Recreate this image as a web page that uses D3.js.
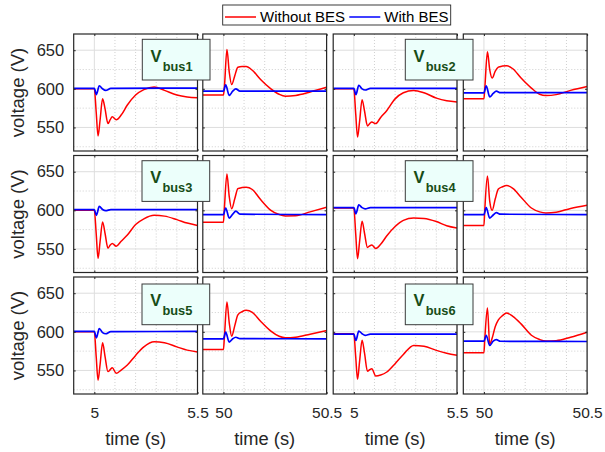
<!DOCTYPE html>
<html><head><meta charset="utf-8">
<script src="https://cdn.jsdelivr.net/npm/d3@7"></script>
<style>body{margin:0;background:#fff}svg{display:block}</style>
</head><body><svg id="c" width="605" height="452"></svg>
<script>
// ---------- data ----------
const busLabels = ["bus1","bus2","bus3","bus4","bus5","bus6"];
const seriesNames = ["Without BES","With BES"];
const xDomainA = [4.9, 5.5], xDomainB = [49.9, 50.5];
const xTicksA = [5, 5.5], xTicksB = [50, 50.5];
const xTickLabelsA = ["5","5.5"], xTickLabelsB = ["50","50.5"];
const xMinorA = [5.1, 5.2, 5.3, 5.4], xMinorB = [50.1, 50.2, 50.3, 50.4];
const yDomain = [519.5, 671];
const yTicks = [550, 600, 650];
const yMinor = [525, 575, 625];

// time samples, fault at t = 5 s
const tA = [4.9, 5.0, 5.009, 5.018, 5.028, 5.04, 5.052, 5.066, 5.077, 5.087, 5.106, 5.13, 5.16, 5.2, 5.24, 5.29, 5.34, 5.4, 5.45, 5.5];
const tBlueA = [4.9, 5.0, 5.01, 5.024, 5.04, 5.055, 5.08, 5.5];
// time samples, event at t = 50 s
const tB = [49.9, 50.0, 50.004, 50.017, 50.028, 50.04, 50.055, 50.07, 50.09, 50.11, 50.14, 50.18, 50.23, 50.27, 50.3, 50.35, 50.42, 50.5];
const tBlueB = [49.9, 50.0, 50.011, 50.028, 50.045, 50.06, 50.08, 50.5];

// Without BES, around 5 s
const redA = [
  [600, 600, 570, 539, 560, 587, 574, 555, 560, 564, 560, 566, 579, 592, 599, 602.5, 598, 592, 589.5, 588.5],
  [600, 600, 568, 537.6, 558, 586, 571, 552, 555, 557, 555, 563, 572, 587, 595, 598, 595, 588, 584.5, 583],
  [600, 600, 570, 537.8, 560, 585, 570, 551, 555, 557, 553.6, 560, 568, 581.6, 589, 593.5, 592.5, 588, 583.5, 580.3],
  [603, 603, 570, 537.4, 560, 586, 570, 552, 554, 555, 550.5, 556, 567, 579, 587, 590, 589.5, 585.5, 580, 577],
  [600, 600, 568, 537.2, 558, 585.8, 568, 548.5, 551, 553.6, 546.3, 550.5, 557, 569.5, 580.5, 587, 585.8, 580.5, 576.3, 574],
  [597.4, 597.4, 568, 538.5, 562, 589, 572, 549, 551, 552.3, 542.8, 544, 548, 558.8, 570.7, 582.3, 581.3, 576, 572.4, 569.5]
];
// With BES, around 5 s
const blueA = [
  [600.5, 600.5, 592.5, 604, 600, 598, 600.5, 601],
  [600.5, 600.5, 592.5, 604.5, 600, 598.5, 600.5, 600.5],
  [601, 601, 593.5, 605, 601, 599.5, 601, 601],
  [603.5, 603.5, 595.5, 607, 603.5, 602, 603.5, 603.5],
  [600.5, 600.5, 592.3, 604.3, 599, 597.5, 600.3, 600.5],
  [597, 597, 588.8, 601, 597.5, 595.5, 597, 597]
];
// Without BES, around 50 s
const redB = [
  [592, 592, 600, 651, 622, 605.5, 617, 628, 629, 629, 624, 612, 600, 593, 590.5, 591.5, 596, 602],
  [587, 587, 600, 648, 625, 614, 623, 628, 629.5, 630, 626, 614, 601, 593, 591.4, 592.5, 598, 603],
  [584.5, 584.5, 600, 647, 618, 602, 615, 628, 629.5, 630, 627, 614, 600, 594.5, 592.8, 593, 598, 604],
  [580.3, 580.3, 600, 644.5, 612, 600, 615, 627.6, 630.5, 632, 628.5, 617, 603, 598, 596.6, 597.5, 602.5, 606.5],
  [577, 577, 590, 638.7, 612, 594.3, 608, 622, 626, 627.8, 625.3, 613.7, 601, 594.3, 592.3, 593, 597, 601.5],
  [573, 573, 590, 631, 584, 592, 607, 615.5, 621, 624.5, 620, 610.3, 595.6, 590, 588, 588.5, 593, 599.5]
];
// With BES, around 50 s
const blueB = [
  [597, 597, 605, 591.5, 597, 600, 597, 597],
  [594.8, 594.8, 604, 589.7, 594, 597, 595, 595],
  [594.5, 594.5, 603, 590, 595, 599, 595, 594.5],
  [594.5, 594.5, 603.5, 590, 594, 597, 595, 594.5],
  [591, 591, 599.6, 586.6, 591, 593, 591.2, 591],
  [588, 588, 595.6, 582.4, 588, 590, 587.8, 587.5]
];

// ---------- layout ----------
const colLeft = [73.7, 202.8, 333.2, 463.3], colW = 123.8;
const rowTop = [34, 155.5, 277], rowH = 117;
const boxPos = [[142.3, 39.3], [405.3, 39.3], [142, 160.7], [405.3, 160.7], [142, 284], [405.3, 284]];
const FONT = "'Liberation Sans', Arial, Helvetica, sans-serif";
const AX = "#262626";
const RED = "#ff0000", BLUE = "#0000ff";

const svg = d3.select("#c");
svg.append("rect").attr("width", 605).attr("height", 452).attr("fill", "#fff");
const defs = svg.append("defs");

function panel(id, col, row, xDom, xTicks, xTickLabels, xMinor, red, tRed, blue, tBlue, showY, showX) {
  const x0 = colLeft[col], y0 = rowTop[row];
  const x = d3.scaleLinear().domain(xDom).range([x0, x0 + colW]);
  const y = d3.scaleLinear().domain(yDomain).range([y0 + rowH, y0]);
  const g = svg.append("g");
  g.append("rect").attr("x", x0).attr("y", y0).attr("width", colW).attr("height", rowH).attr("fill", "#fff");
  // minor grid
  g.selectAll(".mx").data(xMinor).enter().append("line")
    .attr("x1", d => x(d)).attr("x2", d => x(d)).attr("y1", y0).attr("y2", y0 + rowH)
    .attr("stroke", "#c4c4c4").attr("stroke-width", 0.8).attr("stroke-dasharray", "1,2");
  g.selectAll(".my").data(yMinor).enter().append("line")
    .attr("y1", d => y(d)).attr("y2", d => y(d)).attr("x1", x0).attr("x2", x0 + colW)
    .attr("stroke", "#c4c4c4").attr("stroke-width", 0.8).attr("stroke-dasharray", "1,2");
  // major grid
  g.selectAll(".gx").data(xTicks).enter().append("line")
    .attr("x1", d => x(d)).attr("x2", d => x(d)).attr("y1", y0).attr("y2", y0 + rowH)
    .attr("stroke", "#dedede").attr("stroke-width", 1);
  g.selectAll(".gy").data(yTicks).enter().append("line")
    .attr("y1", d => y(d)).attr("y2", d => y(d)).attr("x1", x0).attr("x2", x0 + colW)
    .attr("stroke", "#dedede").attr("stroke-width", 1);
  // lines
  defs.append("clipPath").attr("id", "cp" + id).append("rect")
    .attr("x", x0).attr("y", y0).attr("width", colW).attr("height", rowH);
  const line = d3.line().x(d => x(d[0])).y(d => y(d[1])).curve(d3.curveMonotoneX);
  const lg = g.append("g").attr("clip-path", "url(#cp" + id + ")");
  lg.append("path").attr("d", line(tRed.map((t, i) => [t, red[i]])))
    .attr("fill", "none").attr("stroke", RED).attr("stroke-width", 1.5);
  lg.append("path").attr("d", line(tBlue.map((t, i) => [t, blue[i]])))
    .attr("fill", "none").attr("stroke", BLUE).attr("stroke-width", 1.7);
  // axes
  const ax = (a) => a.call(s => s.select(".domain").remove())
    .call(s => s.selectAll("line").attr("stroke", AX))
    .call(s => s.selectAll("text").attr("fill", AX).attr("font-family", FONT));
  g.append("g").attr("transform", `translate(${x0},0)`)
    .call(d3.axisLeft(y).tickValues(yTicks).tickSize(-2).tickPadding(9.5)
      .tickFormat(showY ? d3.format("d") : () => ""))
    .call(ax).call(s => s.selectAll("text").attr("font-size", 16.5));
  g.append("g").attr("transform", `translate(${x0 + colW},0)`)
    .call(d3.axisRight(y).tickValues(yTicks).tickSize(-2).tickFormat(() => "")).call(ax);
  g.append("g").attr("transform", `translate(0,${y0 + rowH})`)
    .call(d3.axisBottom(x).tickValues(xTicks).tickSize(-2).tickPadding(13.3)
      .tickFormat((d, i) => showX ? xTickLabels[i] : ""))
    .call(ax).call(s => s.selectAll("text").attr("font-size", 15.5));
  g.append("g").attr("transform", `translate(0,${y0})`)
    .call(d3.axisTop(x).tickValues(xTicks).tickSize(-2).tickFormat(() => "")).call(ax);
  // box
  g.append("rect").attr("x", x0).attr("y", y0).attr("width", colW).attr("height", rowH)
    .attr("fill", "none").attr("stroke", AX).attr("stroke-width", 1.2);
  if (showX) {
    g.append("text").attr("x", x0 + colW / 2).attr("y", 445).attr("text-anchor", "middle")
      .attr("font-family", FONT).attr("font-size", 18.3).attr("fill", AX).text("time (s)");
  }
  if (showY) {
    g.append("text").attr("transform", `translate(24,${y0 + rowH / 2}) rotate(-90)`)
      .attr("text-anchor", "middle").attr("font-family", FONT).attr("font-size", 18.5)
      .attr("fill", AX).text("voltage (V)");
  }
}

busLabels.forEach((b, i) => {
  const row = Math.floor(i / 2), p = i % 2;
  panel("a" + i, 2 * p, row, xDomainA, xTicksA, xTickLabelsA, xMinorA, redA[i], tA, blueA[i], tBlueA, p === 0, row === 2);
  panel("b" + i, 2 * p + 1, row, xDomainB, xTicksB, xTickLabelsB, xMinorB, redB[i], tB, blueB[i], tBlueB, false, row === 2);
});

// annotation boxes
busLabels.forEach((b, i) => {
  const [bx, by] = boxPos[i];
  svg.append("rect").attr("x", bx).attr("y", by).attr("width", 67.7).attr("height", 40.7)
    .attr("fill", "#ecfffb").attr("stroke", "#3a3a3a").attr("stroke-width", 1);
  const t = svg.append("text").attr("x", bx + 8.2).attr("y", by + 22.4)
    .attr("font-family", FONT).attr("font-weight", "bold").attr("fill", "#174d17");
  t.append("tspan").attr("font-size", 16.5).text("V");
  t.append("tspan").attr("font-size", 12.8).attr("dx", 1.2).attr("dy", 9).text(b);
});

// legend
const lg = svg.append("g");
lg.append("rect").attr("x", 222.7).attr("y", 5).attr("width", 228).attr("height", 20)
  .attr("fill", "#fff").attr("stroke", AX).attr("stroke-width", 0.9);
const legendItems = [{name: seriesNames[0], color: RED, x: 225}, {name: seriesNames[1], color: BLUE, x: 349.3}];
legendItems.forEach(d => {
  lg.append("line").attr("x1", d.x).attr("x2", d.x + 31).attr("y1", 17).attr("y2", 17)
    .attr("stroke", d.color).attr("stroke-width", 1.5);
  lg.append("text").attr("x", d.x + 35).attr("y", 22.3).attr("font-family", FONT)
    .attr("font-size", 15).attr("fill", "#000").text(d.name);
});
</script></body></html>
